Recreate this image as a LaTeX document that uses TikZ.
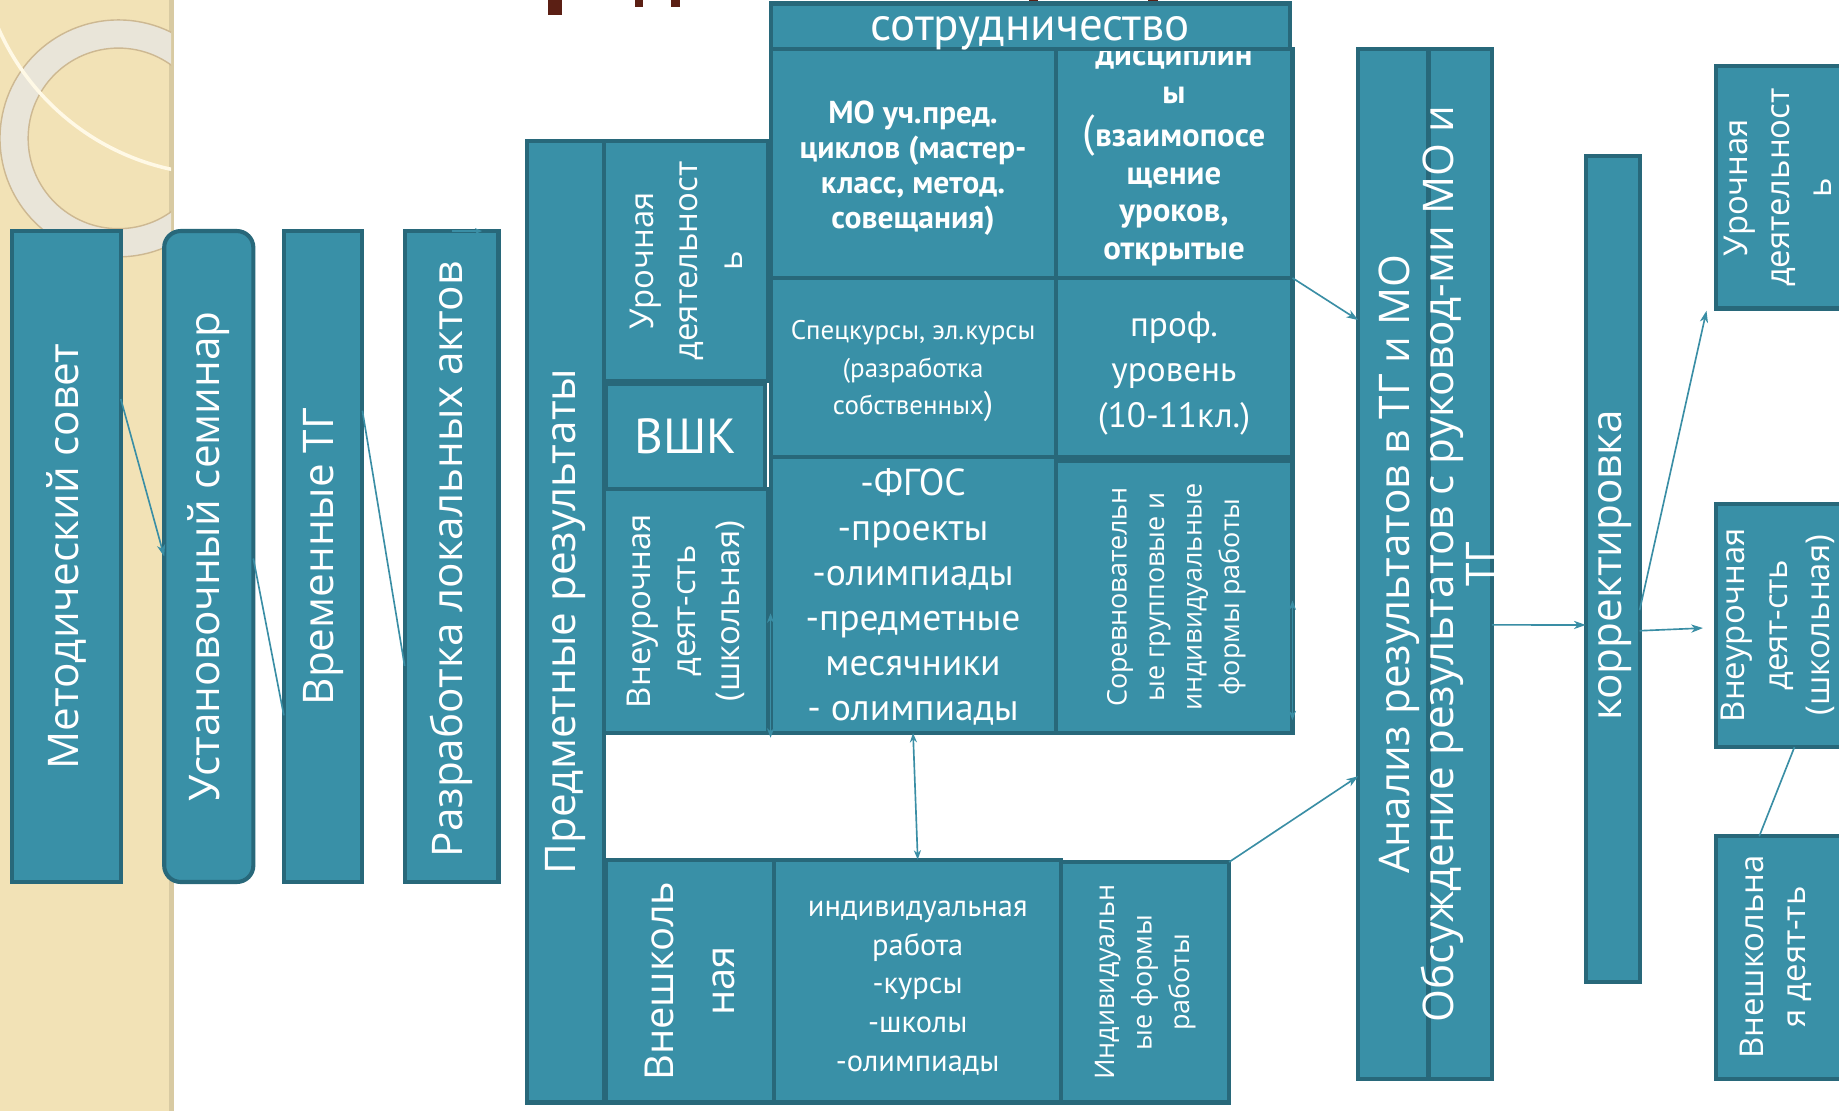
\documentclass[tikz,border=0pt]{standalone}
\usepackage{fontspec}
\setmainfont{PT Sans}
\newfontfamily\rotf{Open Sans}
\usetikzlibrary{arrows.meta,calc}
\definecolor{boxc}{HTML}{3990A7}
\definecolor{bordc}{HTML}{28687A}
\definecolor{linec}{HTML}{3A8EA5}
\definecolor{beige}{HTML}{F2E2B6}
\definecolor{beigedk}{HTML}{D8CAA2}
\definecolor{ringc}{HTML}{E9E5D9}
\definecolor{ringline}{HTML}{CDB892}
\definecolor{creamc}{HTML}{FFF9E6}
\definecolor{titlec}{HTML}{5B1F14}
\newcommand{\fBig}{\rotf\fontsize{36}{37}\selectfont}
\newcommand{\fMed}{\rotf\fontsize{28}{38}\selectfont}
\newcommand{\fMedR}{\rotf\fontsize{28}{36}\selectfont}
\newcommand{\fSm}{\rotf\fontsize{23}{32}\selectfont}
\newcommand{\fVn}{\rotf\fontsize{34}{52}\selectfont}
\newcommand{\fSotr}{\fontsize{40}{44}\selectfont}
\newcommand{\fBold}{\bfseries\fontsize{27}{30}\selectfont}
\newcommand{\fDisc}{\bfseries\fontsize{28}{32}\selectfont}
\newcommand{\fSpec}{\fontsize{23}{32}\selectfont}
\newcommand{\fProf}{\fontsize{30}{38.5}\selectfont}
\newcommand{\fFgos}{\fontsize{32}{38.5}\selectfont}
\newcommand{\fInd}{\fontsize{26}{33}\selectfont}
\newcommand{\fVshk}{\fontsize{42}{46}\selectfont}
\newcommand{\mkbox}[6][]{\node[box,#1,minimum width={(#5-#3)*1pt},minimum height={(#6-#4)*1pt}] (#2) at ({(#3+#5)/2},{(#4+#6)/2}) {};}
\tikzset{
  box/.style={draw=bordc, fill=boxc, line width=3.5pt, inner sep=0pt, outer sep=0pt},
  rbox/.style={rounded corners=14pt},
  lbl/.style={text=white, inner sep=0pt, align=center},
  vlbl/.style={lbl, rotate=90},
  conn/.style={draw=linec, line width=1.4pt},
  arr/.style={conn, -{Stealth[length=10pt,width=7pt,inset=3pt]}},
  darr/.style={conn, {Stealth[length=8pt,width=6pt,inset=2.5pt]}-{Stealth[length=8pt,width=6pt,inset=2.5pt]}}
}
\begin{document}
\begin{tikzpicture}[x=1pt,y=-1pt]
\useasboundingbox (0,0) rectangle (1568,947);
\clip (0,0) rectangle (1568,947);
\fill[white] (0,0) rectangle (1568,947);
% beige strip with rings
\fill[beige] (0,0) rectangle (148,947);
\fill[beigedk] (144,0) rectangle (148,947);
\begin{scope}
  \clip (0,0) rectangle (146,947);
  \fill[ringc, even odd rule] (101,118) circle (101pt) (101,118) circle (77pt);
  \draw[ringline, line width=1.2pt] (101,118) circle (101pt);
  \draw[ringline, line width=1.2pt] (101,118) circle (77pt);
  \draw[creamc, line width=3pt] (190,-60) circle (209pt);
\end{scope}
% title fragments
\fill[titlec] (467,0) rectangle (479,13);
\fill[titlec] (541,0) rectangle (548,6);
\fill[titlec] (572,0) rectangle (580,6);
\fill[titlec] (877,0) rectangle (885,3);
\fill[titlec] (979,0) rectangle (987,4);

% left column of boxes
\mkbox{b1}{10}{197}{103}{752}
\node[vlbl, font=\fBig] (b1t) at (b1) {Методический совет};
\mkbox[rbox]{b2}{140}{197}{216}{752}
\node[vlbl, font=\fBig] (b2t) at (b2) {Установочный семинар};
\mkbox{b3}{242}{197}{309}{752}
\node[vlbl, font=\fBig] (b3t) at (b3) {Временные ТГ};
\mkbox{b4}{345}{197}{425}{752}
\node[vlbl, font=\fBig] (b4t) at (385,477) {Разработка локальных актов};

% Предметные результаты
\mkbox{pr}{449}{120}{515}{940}
\node[vlbl, font=\fBig] (prt) at (pr) {Предметные результаты};
\mkbox{urL}{515}{120}{655}{325}
\node[vlbl, font=\fMed] (urLt) at (urL) {Урочная\\деятельност\\ь};
\mkbox{vshk}{517}{327}{652}{417}
\node[lbl, font=\fVshk] (vshkt) at (vshk) {ВШК};
\mkbox{vnL}{515}{417}{655}{625}
\node[vlbl, font=\fMed] (vnLt) at (vnL) {Внеурочная\\деят-сть\\(школьная)};

% middle grid
\mkbox{mo}{657}{42}{900}{237}
\node[lbl, font=\fBold] (mot) at (778.5,143.5) {МО уч.пред.\\циклов (мастер-\\класс, метод.\\совещания)};
\mkbox{disc}{900}{42}{1102}{237}
\node[lbl, font=\fDisc] (disct) at (1001,134) {дисциплин\\ы\\[5pt]{\mdseries\fontsize{38}{32}\selectfont(}взаимопосе\\щение\\уроков,\\открытые};
\mkbox{sotr}{657}{3}{1100}{42}
\node[lbl, font=\fSotr] (sotrt) at (878.5,28.5) {сотрудничество};
\mkbox{spec}{657}{237}{900}{390}
\node[lbl, font=\fSpec] (spect) at (778.5,316.5) {Спецкурсы, эл.курсы\\(разработка\\собственных{\fontsize{28}{32}\selectfont)}};
\mkbox{prof}{900}{237}{1102}{390}
\node[lbl, font=\fProf] (proft) at (1001,318.5) {проф.\\уровень\\(10-11кл.)};
\mkbox{fgos}{657}{390}{900}{625}
\node[lbl, font=\fFgos] (fgost) at (778.5,509) {-ФГОС\\-проекты\\-олимпиады\\-предметные\\месячники\\- олимпиады};
\mkbox{sor}{900}{393}{1102}{625}
\node[vlbl, font=\fSm] (sort) at (1003,509) {Соревновательн\\ые групповые и\\индивидуальные\\формы работы};

% bottom row
\mkbox{vneB}{517}{733}{660}{940}
\node[vlbl, font=\fVn] (vneBt) at (vneB) {Внешколь\\ная};
\mkbox{indw}{660}{733}{905}{940}
\node[lbl, font=\fInd] (indwt) at (782.5,842.5) {индивидуальная\\работа\\-курсы\\-школы\\-олимпиады};
\mkbox{indf}{905}{735}{1048}{940}
\node[vlbl, font=\fSm] (indft) at (indf) {Индивидуальн\\ые формы\\работы};

% analysis
\mkbox{an1}{1158}{42}{1218}{920}
\mkbox{an2}{1218}{42}{1272}{920}
\node[vlbl, font=\fBig] (ant) at (1226,481) {Анализ результатов в ТГ и МО\\Обсуждение результатов с руковод-ми МО и\\ТГ};

\mkbox{kor}{1352}{133}{1398}{837}
\node[vlbl, font=\fBig] (kort) at (1377,482) {корректировка};

% right column
\mkbox{urR}{1463}{56}{1572}{263}
\node[vlbl, font=\fMedR] (urRt) at (1516,160) {Урочная\\деятельност\\ь};
\mkbox{vnR}{1463}{430}{1572}{637}
\node[vlbl, font=\fMedR] (vnRt) at (1516,533) {Внеурочная\\деят-сть\\(школьная)};
\mkbox{vshR}{1463}{713}{1572}{920}
\node[vlbl, font=\fMedR] (vshRt) at (1514,816) {Внешкольна\\я деят-ть};

% connectors
\draw[arr] ($(b1.north east)!0.258!(b1.south east)$) -- ($(b2.north west)!0.5!(b2.south west)$);
\draw[conn] ($(b2.north east)!0.503!(b2.south east)$) -- ($(b3.north west)!0.744!(b3.south west)$);
\draw[conn] ($(b3.north east)!0.276!(b3.south east)$) -- ($(b4.north west)!0.668!(b4.south west)$);
\draw[conn, -{Stealth[length=6pt,width=5pt,inset=2pt]}] ($(b4.north west)+(40,0)$) -- ($(b4.north west)+(66,0)$);
\draw[darr] (fgos.south) -- (indw.north);
\draw[darr] ($(fgos.south west)+(0,-102)$) -- ($(fgos.south west)+(0,4)$);
\draw[darr] ($(sor.south east)+(0,-113)$) -- ($(sor.south east)+(0,-11)$);
\draw[arr] (disc.south east) -- ($(an1.north west)!0.263!(an1.south west)$);
\draw[arr] (indf.north east) -- ($(an1.north west)!0.706!(an1.south west)$);
\draw[arr] ($(an2.north east)!0.559!(an2.south east)$) -- ($(kor.north west)!0.568!(kor.south west)$);
\draw[arr] ($(kor.north east)!0.575!(kor.south east)$) -- ($(vnR.west)+(-11,2)$);
\draw[arr] ($(kor.north east)!0.55!(kor.south east)$) -- ($(urR.south west)+(-8,2)$);
\draw[conn] ($(vnR.south west)+(67,0)$) -- ($(vshR.north west)+(37,0)$);
\end{tikzpicture}
\end{document}
